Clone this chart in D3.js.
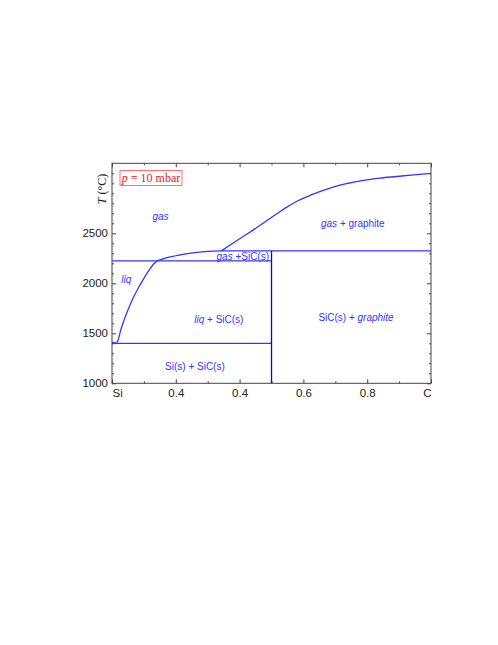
<!DOCTYPE html>
<html><head><meta charset="utf-8">
<script src="https://cdn.jsdelivr.net/npm/d3@7"></script>
<style>body{margin:0;background:#fff}svg{display:block}</style>
</head><body>
<svg id="chart" width="498" height="645"></svg>
<script>
// ---- data ----
const xTickValues = [0, 0.2, 0.4, 0.6, 0.8, 1.0];
const xTickLabels = ["Si", "0.4", "0.4", "0.6", "0.8", "C"];
const xMinorTicks = [0.1, 0.3, 0.5, 0.7, 0.9];
const yTickValues = [1000, 1500, 2000, 2500];
const yMinorTicks = [1100,1200,1300,1400,1600,1700,1800,1900,2100,2200,2300,2400,2600,2700,2800,2900,3000,3100];
const xDomain = [0, 1];
const yDomain = [1000, 3200];
// liquidus (liq / liq+SiC boundary)
const liquidusX = [0, 0.0135, 0.019, 0.029, 0.040, 0.050, 0.066, 0.082, 0.097, 0.113, 0.128, 0.142];
const liquidusT = [1412, 1400, 1433, 1550, 1650, 1733, 1850, 1950, 2033, 2116, 2183, 2225];
// gas / gas+SiC boundary
const gasSiCX = [0.142, 0.176, 0.217, 0.259, 0.301, 0.343];
const gasSiCT = [2225, 2260, 2286, 2306, 2320, 2325];
// gas / gas+graphite boundary
const gasGraphX = [0.343, 0.386, 0.427, 0.469, 0.511, 0.548, 0.584, 0.626, 0.662, 0.700, 0.736, 0.788, 0.840, 0.892, 0.945, 1.0];
const gasGraphT = [2325, 2416, 2500, 2590, 2683, 2762, 2828, 2886, 2930, 2970, 2998, 3030, 3052, 3068, 3084, 3100];
// invariant lines [x1, x2, T]
const invariantLines = [[0, 0.5, 2225], [0, 0.5, 1400], [0.343, 1.0, 2325]];
const sicLine = [0.5, 1000, 2325];
// region labels
const regionLabels = [
  {x: 0.152, T: 2660, parts: [["gas", true]]},
  {x: 0.755, T: 2590, parts: [["gas", true], [" + graphite", false]]},
  {x: 0.41, T: 2262, parts: [["gas", true], [" +SiC(s)", false]]},
  {x: 0.045, T: 2030, parts: [["liq", true]]},
  {x: 0.335, T: 1635, parts: [["liq", true], [" + SiC(s)", false]]},
  {x: 0.26, T: 1160, parts: [["Si(s) + SiC(s)", false]]},
  {x: 0.765, T: 1650, parts: [["SiC(s) + ", false], ["graphite", true]]}
];

// ---- drawing ----
const svg = d3.select("#chart");
const L = 112, R = 431, T0 = 163.3, B = 383.3;
const x = d3.scaleLinear().domain(xDomain).range([L, R]);
const y = d3.scaleLinear().domain(yDomain).range([B, T0]);
const blue = "#3535ff";
const frame = "#444";

function styleAxis(g){ g.select(".domain").remove(); g.selectAll(".tick line").attr("stroke", frame); g.selectAll("text").attr("fill","#222").style("font-family","Liberation Sans, Arial, sans-serif").style("font-size","11.5px"); }
const gx = svg.append("g").attr("transform", `translate(0,${B})`)
  .call(d3.axisBottom(x).tickValues(xTickValues).tickFormat((d,i)=>xTickLabels[i]).tickSizeInner(-4).tickSizeOuter(0).tickPadding(6));
styleAxis(gx);
gx.selectAll(".tick text").attr("text-anchor", (d,i)=> i===0 ? "start" : (i===xTickValues.length-1 ? "end" : "middle"));
const gxm = svg.append("g").attr("transform", `translate(0,${B})`).call(d3.axisBottom(x).tickValues(xMinorTicks).tickFormat("").tickSizeInner(-2).tickSizeOuter(0));
styleAxis(gxm);
const gxt = svg.append("g").attr("transform", `translate(0,${T0})`).call(d3.axisTop(x).tickValues(xTickValues).tickFormat("").tickSizeInner(-4).tickSizeOuter(0));
styleAxis(gxt);
const gxtm = svg.append("g").attr("transform", `translate(0,${T0})`).call(d3.axisTop(x).tickValues(xMinorTicks).tickFormat("").tickSizeInner(-2).tickSizeOuter(0));
styleAxis(gxtm);

const gy = svg.append("g").attr("transform", `translate(${L},0)`).call(d3.axisLeft(y).tickValues(yTickValues).tickSizeInner(-4).tickSizeOuter(0).tickPadding(4).tickFormat(d3.format("d")));
styleAxis(gy);
const gym = svg.append("g").attr("transform", `translate(${L},0)`).call(d3.axisLeft(y).tickValues(yMinorTicks).tickFormat("").tickSizeInner(-2).tickSizeOuter(0));
styleAxis(gym);
const gyr = svg.append("g").attr("transform", `translate(${R},0)`).call(d3.axisRight(y).tickValues(yTickValues).tickFormat("").tickSizeInner(-4).tickSizeOuter(0));
styleAxis(gyr);
const gyrm = svg.append("g").attr("transform", `translate(${R},0)`).call(d3.axisRight(y).tickValues(yMinorTicks).tickFormat("").tickSizeInner(-2).tickSizeOuter(0));
styleAxis(gyrm);

svg.append("rect").attr("x", L).attr("y", T0).attr("width", R-L).attr("height", B-T0)
  .attr("fill","none").attr("stroke", frame).attr("stroke-width", 1);

invariantLines.forEach(([x1,x2,t]) => {
  svg.append("line").attr("x1", x(x1)).attr("x2", x(x2)).attr("y1", y(t)).attr("y2", y(t))
    .attr("stroke", blue).attr("stroke-width", 1.2);
});
svg.append("line").attr("x1", x(sicLine[0])).attr("x2", x(sicLine[0])).attr("y1", y(sicLine[1])).attr("y2", y(sicLine[2]))
  .attr("stroke", "#0a0ac0").attr("stroke-width", 1.3);

const lineGen = d3.line().x(d=>x(d[0])).y(d=>y(d[1])).curve(d3.curveMonotoneX);
[[liquidusX, liquidusT],[gasSiCX, gasSiCT],[gasGraphX, gasGraphT]].forEach(([xs,ts])=>{
  svg.append("path").datum(xs.map((v,i)=>[v, ts[i]])).attr("d", lineGen)
    .attr("fill","none").attr("stroke", blue).attr("stroke-width", 1.3);
});

regionLabels.forEach(l => {
  const t = svg.append("text").attr("x", x(l.x)).attr("y", y(l.T)).attr("text-anchor","middle")
    .attr("dominant-baseline","middle")
    .style("font-family","Liberation Sans, Arial, sans-serif").style("font-size","10px").attr("fill", blue);
  l.parts.forEach(([s, it]) => t.append("tspan").text(s).style("font-style", it ? "italic" : "normal"));
});
svg.selectAll("tspan").style("white-space","pre");

const box = svg.append("g");
box.append("rect").attr("x", 120).attr("y", 170.5).attr("width", 62).attr("height", 15)
  .attr("fill","#fff").attr("stroke","#ff7070").attr("stroke-width",1);
const pt = box.append("text").attr("x", 151).attr("y", 182).attr("text-anchor","middle")
  .style("font-family","Liberation Serif, Times New Roman, serif").style("font-size","12px").attr("fill","#e02020");
pt.append("tspan").text("p").style("font-style","italic");
pt.append("tspan").text(" = 10 mbar").style("white-space","pre");

const yt = svg.append("text").attr("transform", "translate(106,189) rotate(-90)").attr("text-anchor","middle")
  .style("font-family","Liberation Serif, Times New Roman, serif").style("font-size","12px").attr("fill","#222");
yt.append("tspan").text("T").style("font-style","italic");
yt.append("tspan").text(" (°C)").style("white-space","pre");
</script>
</body></html>
